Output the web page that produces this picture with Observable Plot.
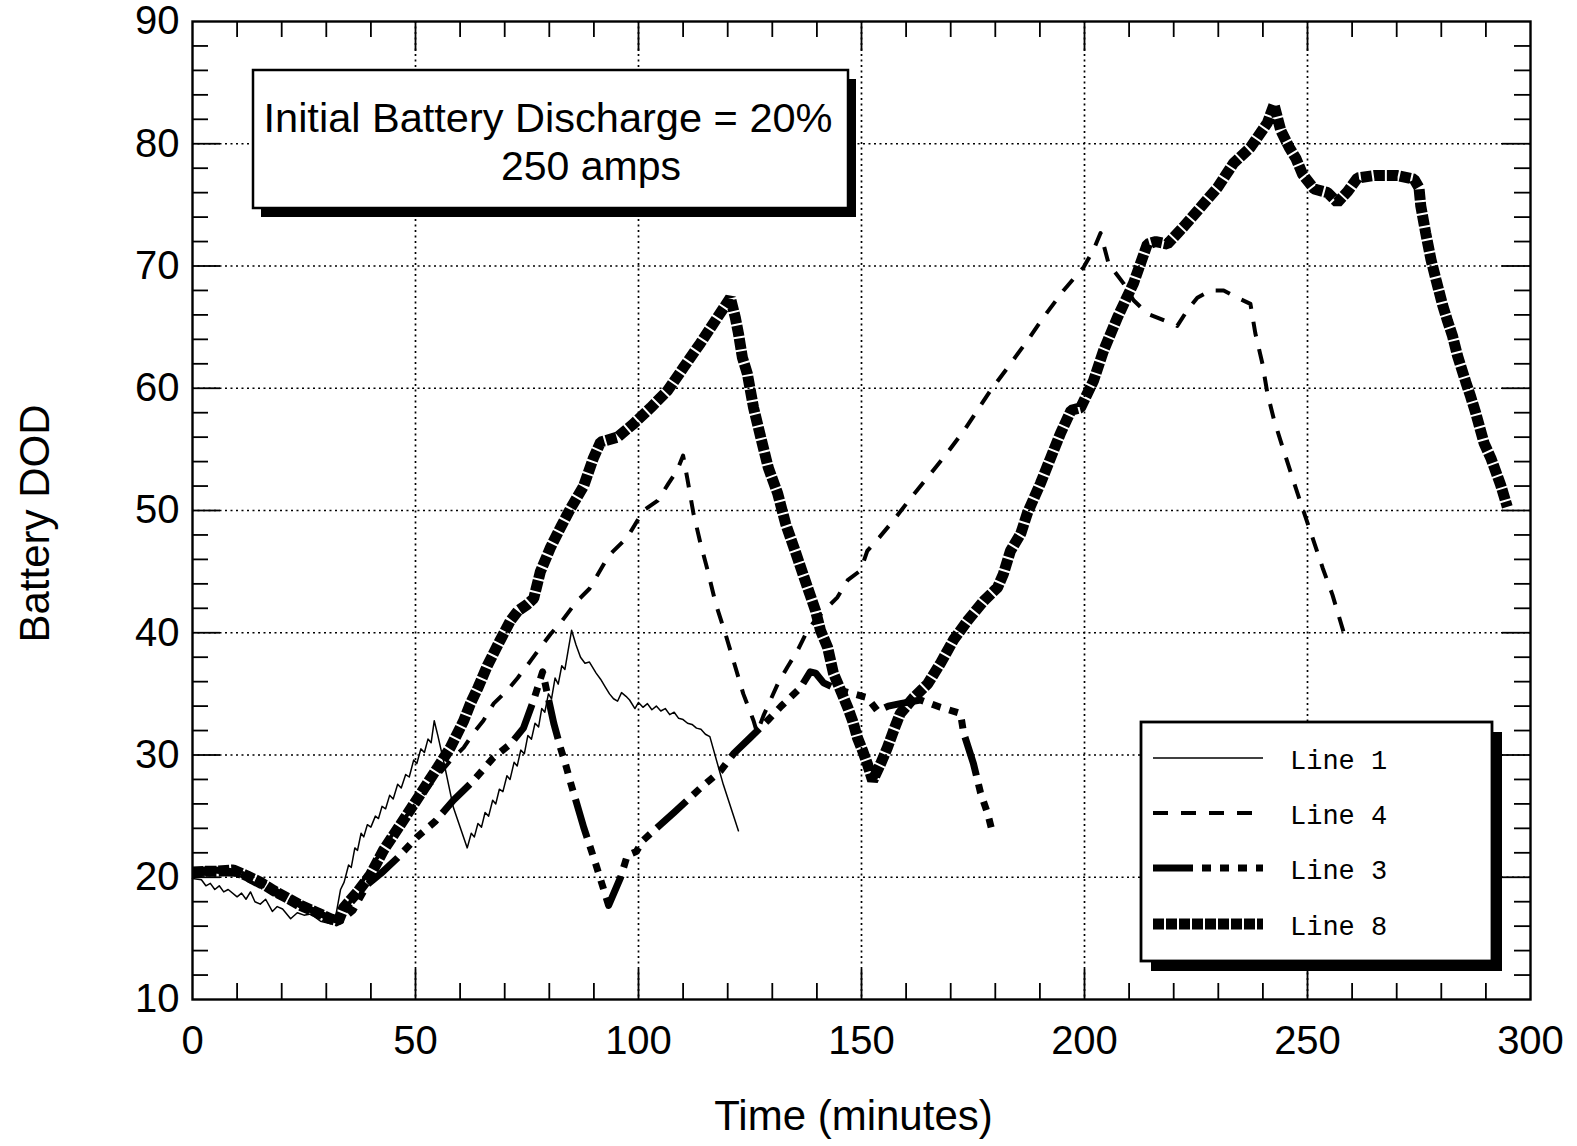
<!DOCTYPE html>
<html><head><meta charset="utf-8">
<script src="https://cdn.jsdelivr.net/npm/d3@7"></script>
<script src="https://cdn.jsdelivr.net/npm/@observablehq/plot@0.6"></script>
<style>html,body{margin:0;padding:0;background:#fff;overflow:hidden}</style>
</head><body><div id="chart"></div>
<script>
// ---------- data ----------
const xTicks = [0, 50, 100, 150, 200, 250, 300];
const yTicks = [10, 20, 30, 40, 50, 60, 70, 80, 90];
const xLabel = "Time (minutes)";
const yLabel = "Battery DOD";
const annotationLines = ["Initial Battery Discharge = 20%", "250 amps"];
const legendLabels = ["Line 1", "Line 4", "Line 3", "Line 8"];

const line1T = [0,2,3,4,5,6,7,8,10,11,12,13,14,15.2,16.4,17.9,19,20.2,22,23.5,25,26.5,28.7,31,32,33.2,34,35,35.6,36.4,37,37.8,38.4,39.2,40,41,41.7,42.5,43.3,44.2,45,46,46.8,47.8,48.6,49.6,50.3,51.2,52,52.8,53.5,54.2,55,56.3,58.5,61.6,62.5,63.2,64,64.8,65.6,66.4,67.3,68,68.8,69.6,70.5,71.2,72.1,72.8,73.6,74.4,75.2,76,76.8,77.6,78.3,79,79.8,80.5,81.3,82,82.8,83.5,84.2,85,86,87,88,89,90.5,91.5,92.5,93.5,94.4,95.3,96.2,97.2,98,99.2,100,101,102,103,104,105,106,107,108,109,110,111,112,113,114,115,116,119,122.4];
const line1V = [19.9,19.8,19.3,19.5,19.0,19.3,18.8,19.0,18.4,18.7,18.2,18.8,18.0,17.8,18.2,17.2,17.6,17.4,16.6,17.1,16.9,17.0,16.4,16.2,16.6,19.0,19.6,21.0,20.8,22.4,22.2,23.6,23.3,24.3,24.1,25.0,24.8,25.8,25.6,26.7,26.4,27.6,27.3,28.4,28.2,29.6,29.3,30.5,30.2,31.3,31.0,32.8,31.6,29.5,25.7,22.4,23.6,23.3,24.4,24.1,25.3,25.0,26.3,26.0,27.2,27.0,28.3,28.0,29.4,29.1,30.4,30.1,31.6,31.3,32.6,32.3,33.8,33.5,35.0,34.6,36.3,35.8,37.3,37.0,38.5,40.2,39.0,38.0,37.5,37.6,36.7,36.2,35.6,35.0,34.6,34.4,35.1,34.8,34.5,33.8,34.3,33.9,34.2,33.7,34.0,33.6,33.8,33.3,33.5,33.0,32.9,32.6,32.5,32.2,32.1,31.7,31.5,27.6,23.8];

const line4T = [0,10,20,30,33,36,40,45,50,55,58,60.8,63,65.2,67.5,70.6,72.9,75.8,78,80.3,82.5,86,89,93.3,97.5,101.1,104.3,106.7,108.7,110,111,112.3,113.9,115.5,117.3,119.5,121.3,123.5,125.8,126.6,128,131.2,133.4,135.6,137.9,140,142.4,144.6,146.9,149.8,151.3,154,157.2,161,164.8,169,172.9,176,178.9,183,187.2,191,195.3,199.8,202,203.6,205.4,208.7,211,214.1,218.2,220.8,223.1,225.3,228.3,231.2,234.3,237.2,238.3,239.9,241,242.5,244.4,246.6,248.5,251.1,253.4,255.6,258.3];
const line4V = [20.3,20.2,18.3,16.7,16.5,18.4,20.8,23.6,26.0,28.3,29.6,30.6,31.8,32.8,34.2,35.3,36.3,37.7,38.8,39.9,40.8,42.5,43.6,46.3,47.8,50.0,50.8,52.2,53.3,54.5,52.5,49.8,47.3,45.1,42.4,39.9,37.7,35.0,32.8,31.8,33.2,35.8,37.2,38.5,40.2,41.2,42.1,42.9,44.3,45.1,46.7,47.8,49.2,51.0,52.7,54.6,56.5,58.2,59.8,61.8,63.9,65.9,68.0,69.9,71.3,72.7,70.2,68.6,67.2,66.1,65.5,65.1,66.4,67.4,68.0,68.0,67.4,66.9,64.5,62.0,59.6,57.4,55.2,52.7,50.6,47.8,45.3,43.1,39.8];

const line3T = [0,5,10,15,20,25,30,33,36,39.2,42.2,46,50.4,54.5,58.5,63,67.5,71.3,74.2,76.5,78.5,81,82.5,83.6,84.8,87.7,90.4,93.3,96,97.5,99.5,101,104,108,113.9,118.4,121.3,125,128.9,132,136.3,138.5,139.7,141.5,145,148.2,151.3,153.6,156,158.7,163.2,167.7,172.2,172.9,175.1,176.7,178.3,179.4];
const line3V = [20.6,20.6,20.4,19.6,18.6,17.6,16.8,16.4,17.3,19.4,20.3,21.6,23.3,24.6,26.3,27.9,29.8,30.9,32.2,34.5,36.8,32.6,30.6,29.3,27.7,24.1,21.1,17.7,20.0,21.8,22.1,23.0,24.0,25.3,27.3,28.7,30.1,31.4,32.8,34.0,35.5,36.8,36.7,35.9,35.3,35.0,34.7,33.6,34.0,34.2,34.5,33.9,33.4,31.8,29.3,26.9,25.2,23.6];

const line8T = [0,3,5.6,9.2,12.3,15.2,18.2,21.3,24.2,28,30.9,32.7,33.9,37,39.9,42.8,46.6,51.1,55,57.8,60.8,62.3,64,66.1,69,71.3,73,75,76.5,78,80.3,82.5,84.8,87.7,89.9,91.5,95.3,98.9,102.7,106.5,110.1,113.9,117.7,120.6,121.7,122.4,123.3,124.4,125.8,127.4,129.1,131.2,133,135.2,137.9,139.7,140.8,142.4,143.7,145.3,146.9,148,149.1,150.2,151.3,152.5,154.3,155.8,157.2,158.7,161.7,164.8,167.7,170.6,173.8,177.4,180.5,181.8,183.4,185.7,187.2,190.1,192.4,194.6,197,199.1,202,204.3,207.4,211,214.1,216,218.6,222.2,226,229.8,233.4,237.2,241,242.5,244,245.9,247.4,248.9,251.5,254.5,256.7,259,261.2,265,270.2,273.9,275,275.4,276.5,277.7,278.8,280.3,281.4,282.5,283.6,285.5,286.6,287.7,289.6,291.1,292.2,293.3,294.8];
const line8V = [20.4,20.5,20.5,20.6,20.1,19.6,18.9,18.3,17.7,17.1,16.6,16.4,17.5,18.8,20.2,22.2,24.3,26.8,29.0,30.6,32.8,34.2,35.5,37.3,39.4,41.0,41.8,42.3,42.8,45.0,47.0,48.6,50.2,52.0,54.3,55.6,56.0,57.1,58.4,59.8,61.7,63.7,65.8,67.4,65.8,64.5,62.5,61.2,58.4,56.0,53.5,51.4,48.9,46.6,43.7,41.8,40.2,38.8,36.7,35.3,33.9,32.8,31.4,30.4,29.3,27.9,29.3,30.6,32.0,33.4,34.7,35.8,37.5,39.4,41.0,42.6,43.7,44.8,46.7,48.1,49.8,52.2,54.3,56.3,58.2,58.4,60.6,63.1,65.8,68.6,71.8,72.0,71.8,73.2,74.8,76.4,78.4,79.7,81.7,83.2,81.1,79.7,78.8,77.5,76.3,76.0,75.2,76.1,77.2,77.4,77.4,77.1,76.4,74.9,72.7,70.5,68.9,66.8,65.5,64.3,62.7,60.5,59.3,58.0,55.5,54.3,53.2,52.1,50.3];

// ---------- build ----------
const toRows = (T, V) => T.map((t, i) => ({t, v: V[i]}));
const s1 = toRows(line1T, line1V), s4 = toRows(line4T, line4V), s3 = toRows(line3T, line3V), s8 = toRows(line8T, line8V);

const W = 1577, H = 1146, mL = 192, mR = 47, mT = 21, mB = 147;
const fw = W - mL - mR, fh = H - mT - mB;
const FONT = "'Liberation Sans', Arial, Helvetica, sans-serif";

const styles = {
  l1: {stroke: "#000", strokeWidth: 1.5},
  l4: {stroke: "#000", strokeWidth: 4, strokeDasharray: "15,13", strokeLinecap: "butt"},
  l3: {stroke: "#000", strokeWidth: 7, strokeDasharray: "40,9,9,9,9,9,9,9", strokeLinecap: "butt"},
  l8: {stroke: "#000", strokeWidth: 11, strokeDasharray: "11,2", strokeLinecap: "butt", strokeLinejoin: "miter"}
};

const minorX = d3.range(0, 301, 10).filter(d => d % 50 !== 0);
const minorY = d3.range(10, 91, 2).filter(d => d % 10 !== 0);
const gridX = xTicks.slice(1, -1), gridY = yTicks.slice(1, -1);
const tk = {stroke: "#000", strokeWidth: 1.8};
const grid = {stroke: "#000", strokeWidth: 1.7, strokeDasharray: "2,3.5"};

const plot = Plot.plot({
  width: W, height: H,
  marginLeft: mL, marginRight: mR, marginTop: mT, marginBottom: mB,
  style: {fontFamily: FONT, background: "#fff", color: "#000", overflow: "visible"},
  x: {domain: [0, 300]},
  y: {domain: [10, 90]},
  marks: [
    Plot.ruleX(gridX, grid),
    Plot.ruleY(gridY, grid),
    Plot.ruleX(minorX, {...tk, insetTop: fh - 16}),
    Plot.ruleX(minorX, {...tk, insetBottom: fh - 16}),
    Plot.ruleX(gridX, {...tk, insetTop: fh - 30}),
    Plot.ruleX(gridX, {...tk, insetBottom: fh - 30}),
    Plot.ruleY(minorY, {...tk, insetRight: fw - 16}),
    Plot.ruleY(minorY, {...tk, insetLeft: fw - 16}),
    Plot.ruleY(gridY, {...tk, insetRight: fw - 28}),
    Plot.ruleY(gridY, {...tk, insetLeft: fw - 28}),
    Plot.frame({stroke: "#000", strokeWidth: 2.4}),
    Plot.axisX({ticks: xTicks, tickSize: 0, tickPadding: 26, fontSize: 40, label: null}),
    Plot.axisY({ticks: yTicks, tickSize: 0, tickPadding: 13, fontSize: 40, label: null}),
    Plot.line(s1, {x: "t", y: "v", ...styles.l1}),
    Plot.line(s4, {x: "t", y: "v", ...styles.l4}),
    Plot.line(s3, {x: "t", y: "v", ...styles.l3}),
    Plot.line(s8, {x: "t", y: "v", ...styles.l8}),
    Plot.text([xLabel], {text: d => d, frameAnchor: "bottom", textAnchor: "middle", lineAnchor: "middle", dx: -8, dy: 117, fontSize: 42, fill: "#000"}),
    Plot.text([yLabel], {text: d => d, frameAnchor: "left", textAnchor: "middle", lineAnchor: "middle", dx: -157, dy: 13, rotate: -90, fontSize: 42, fill: "#000"})
  ]
});
document.getElementById("chart").appendChild(plot);

// ---------- annotation box and legend ----------
const svg = d3.select(plot);
const ann = svg.append("g").attr("text-anchor", "middle");
ann.append("rect").attr("x", 261).attr("y", 79).attr("width", 595).attr("height", 138).attr("fill", "#000");
ann.append("rect").attr("x", 253).attr("y", 70).attr("width", 595).attr("height", 138)
  .attr("fill", "#fff").attr("stroke", "#000").attr("stroke-width", 2.5);
ann.append("text").attr("x", 548).attr("y", 132).attr("text-anchor", "middle")
  .attr("font-family", FONT).attr("font-size", 41).attr("fill", "#000")
  .attr("textLength", 569).attr("lengthAdjust", "spacingAndGlyphs").text(annotationLines[0]);
ann.append("text").attr("x", 591).attr("y", 180).attr("text-anchor", "middle")
  .attr("font-family", FONT).attr("font-size", 41).attr("fill", "#000").text(annotationLines[1]);

const leg = svg.append("g").attr("text-anchor", "start");
leg.append("rect").attr("x", 1151).attr("y", 732).attr("width", 351).attr("height", 239).attr("fill", "#000");
leg.append("rect").attr("x", 1141).attr("y", 722).attr("width", 351).attr("height", 239)
  .attr("fill", "#fff").attr("stroke", "#000").attr("stroke-width", 2.8);
const legRows = [styles.l1, styles.l4, styles.l3, styles.l8];
const legY = [758, 813, 868, 924];
legRows.forEach((st, i) => {
  const ln = leg.append("line").attr("x1", 1153).attr("x2", 1263).attr("y1", legY[i]).attr("y2", legY[i])
    .attr("stroke", "#000").attr("stroke-width", st.strokeWidth).attr("stroke-linecap", "butt");
  if (st.strokeDasharray) ln.attr("stroke-dasharray", st.strokeDasharray);
  leg.append("text").attr("x", 1290).attr("y", legY[i] + 11).attr("text-anchor", "start")
    .attr("font-family", "'Liberation Mono', 'DejaVu Sans Mono', monospace").attr("font-size", 27)
    .attr("fill", "#000").text(legendLabels[i]);
});
</script>
</body></html>
